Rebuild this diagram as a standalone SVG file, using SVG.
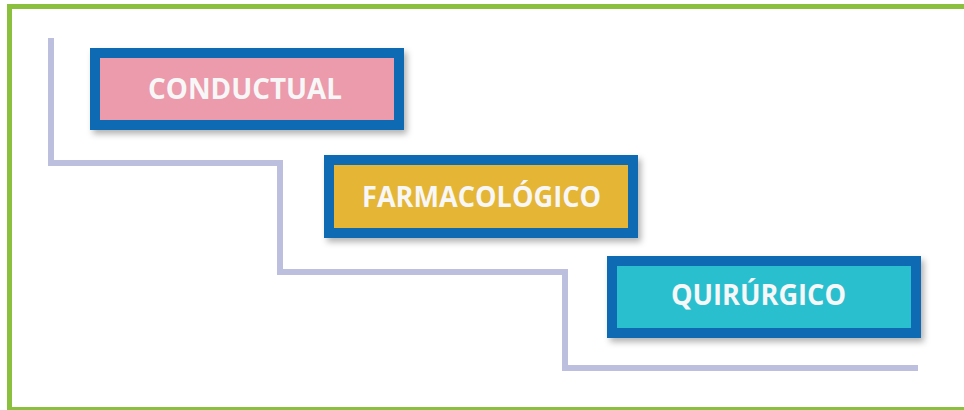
<svg xmlns="http://www.w3.org/2000/svg" width="964" height="410" viewBox="0 0 964 410">
<defs>
<filter id="sh" x="-10%" y="-20%" width="125%" height="150%">
<feDropShadow dx="3" dy="4" stdDeviation="3" flood-color="#000" flood-opacity="0.3"/>
</filter>
<style>
.box{stroke:#0e6ab3;stroke-width:10}
.lbl{font-family:"Open Sans","Liberation Sans",sans-serif;font-weight:bold;font-size:29px;fill:#f7f7f7;text-anchor:middle}
.conn{fill:none;stroke:#bcc0de;stroke-width:6}
</style>
</defs>
<rect width="964" height="410" fill="#ffffff"/>
<rect x="9.5" y="6.5" width="962" height="403" fill="none" stroke="#8bc03f" stroke-width="5"/>
<g id="connectors">
<polyline class="conn" points="51,38 51,163 280,163 280,272 565,272 565,368 918,368"/>
</g>
<g id="conductual">
<rect class="box" x="95" y="53" width="304" height="72" fill="#eb9bac" filter="url(#sh)"/>
<text class="lbl" x="245" y="99" textLength="194" lengthAdjust="spacingAndGlyphs">CONDUCTUAL</text>
</g>
<g id="farmacologico">
<rect class="box" x="329" y="160" width="304" height="73" fill="#e5b535" filter="url(#sh)"/>
<text class="lbl" x="481.5" y="207" textLength="239" lengthAdjust="spacingAndGlyphs">FARMACOLÓGICO</text>
</g>
<g id="quirurgico">
<rect class="box" x="612" y="261" width="304" height="72" fill="#29bfcf" filter="url(#sh)"/>
<text class="lbl" x="758.5" y="305" textLength="175" lengthAdjust="spacingAndGlyphs">QUIRÚRGICO</text>
</g>
</svg>
